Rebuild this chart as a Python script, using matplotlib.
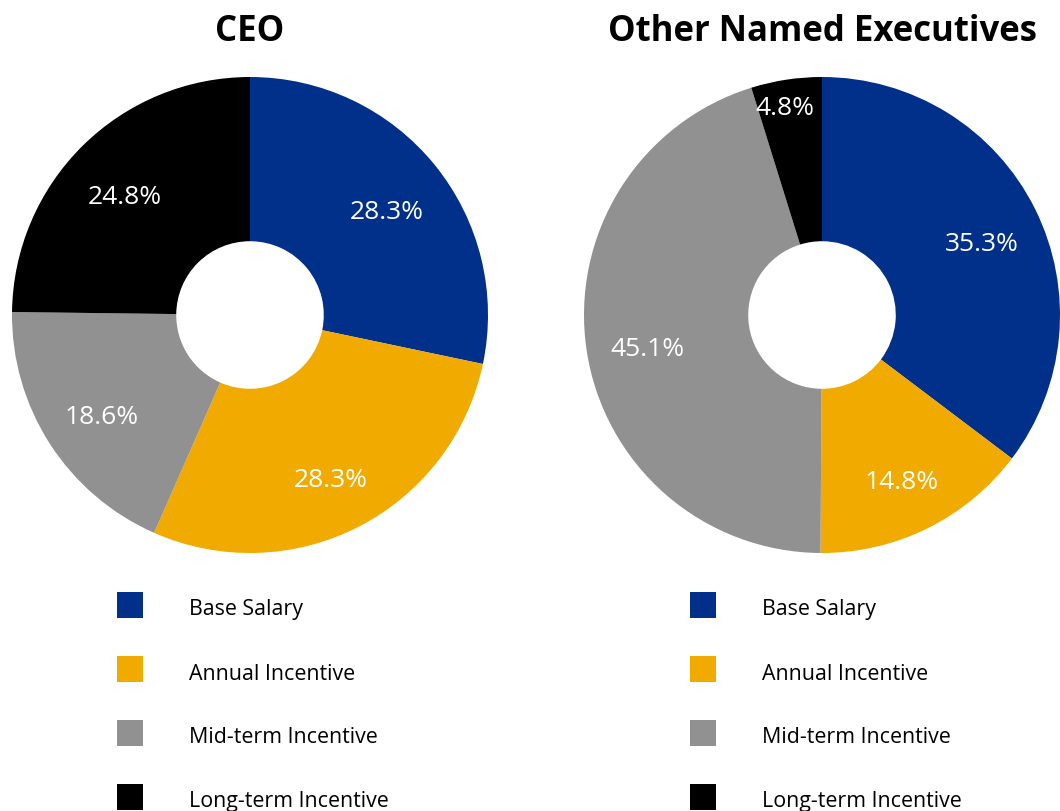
import numpy as np
import matplotlib
matplotlib.use("Agg")
import matplotlib.pyplot as plt
from matplotlib.patches import Rectangle

plt.rcParams['font.family'] = ['Open Sans', 'DejaVu Sans']

# data
categories = ["Base Salary", "Annual Incentive", "Mid-term Incentive", "Long-term Incentive"]
ceo_values = [28.3, 28.3, 18.6, 24.8]
neo_values = [35.3, 14.8, 45.1, 4.8]
titles = ["CEO", "Other Named Executives"]
colors = ["#00308A", "#F0AA00", "#919191", "#000000"]

W, H = 1060, 812
fig = plt.figure(figsize=(W / 100, H / 100), dpi=100)


def px_axes(cx, cy, r):
    return fig.add_axes([(cx - r) / W, (H - cy - r) / H, 2 * r / W, 2 * r / H])


def draw_donut(ax, values, label_r):
    wedges, texts, autotexts = ax.pie(
        values, colors=colors, startangle=90, counterclock=False,
        radius=1, autopct="%.1f%%", pctdistance=0.74,
        wedgeprops=dict(width=0.69, linewidth=0),
        textprops=dict(color="white", fontsize=19))
    # nudge label positions a bit (angle shift in degrees, radius)
    for t, w, (da, rr) in zip(autotexts, wedges, label_r):
        ang = np.deg2rad((w.theta1 + w.theta2) / 2 + da)
        t.set_position((rr * np.cos(ang), rr * np.sin(ang)))
    ax.set_xlim(-1, 1)
    ax.set_ylim(-1, 1)
    ax.set_aspect("equal")
    ax.axis("off")


centers = [(250, 316), (822, 316)]
label_adj = [
    [(-1.9, 0.72), (-1.2, 0.77), (1.8, 0.755), (1.8, 0.725)],
    [(-2.3, 0.735), (-0.8, 0.773), (2.3, 0.745), (1.5, 0.885)],
]
for (cx, cy), vals, adj, title in zip(centers, [ceo_values, neo_values], label_adj, titles):
    ax = px_axes(cx, cy, 238)
    draw_donut(ax, vals, adj)
    fig.text(cx / W, 1 - 32 / H, title, ha="center", va="center",
             fontsize=25, fontweight="bold")

# legends
legend_x = [(117, 189), (690, 762)]
row_y = [606, 670, 734, 798]
for sq_x, txt_x in legend_x:
    for lab, col, y in zip(categories, colors, row_y):
        fig.add_artist(Rectangle((sq_x / W, (H - y - 13) / H), 26 / W, 26 / H,
                                 transform=fig.transFigure, facecolor=col,
                                 edgecolor="none"))
        fig.text(txt_x / W, 1 - (y + 4) / H, lab, ha="left", va="center", fontsize=15.4)

fig.savefig("out.png", dpi=100)
